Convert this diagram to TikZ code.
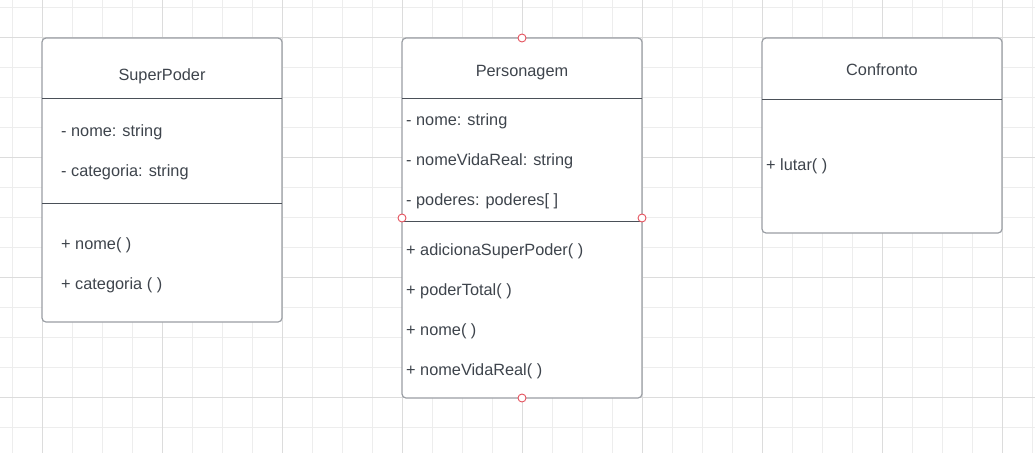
\documentclass[tikz,border=0pt]{standalone}
\usepackage{fontspec}
\setmainfont{Liberation Sans}
\definecolor{minorgrid}{HTML}{EDEDED}
\definecolor{majorgrid}{HTML}{DCDCDC}
\definecolor{boxborder}{HTML}{9A9EA4}
\definecolor{divline}{HTML}{4A5058}
\definecolor{txtcol}{HTML}{3E444C}
\definecolor{handlecol}{HTML}{E5535F}
\begin{document}
\begin{tikzpicture}[x=1pt,y=-1pt,
  classbox/.style={draw=boxborder, line width=1.2pt, fill=white, rounded corners=4pt,
    inner sep=0pt, outer sep=0pt, anchor=north west, minimum width=240pt},
  divider/.style={draw=divline, line width=1pt},
  member/.style={anchor=base west, inner sep=0pt, text=txtcol, font=\fontsize{16.3}{19}\selectfont},
  title/.style={anchor=base, inner sep=0pt, text=txtcol, font=\fontsize{16.3}{19}\selectfont},
  handle/.style={circle, draw=handlecol, fill=white, line width=0.9pt, minimum size=8pt, inner sep=0pt}]
\fill[white] (0,0) rectangle (1035,453);
\useasboundingbox (0,0) rectangle (1035,453);
% grid
\foreach \i in {0,...,34} \draw[minorgrid, line width=0.9pt] ({12.3+30*\i},0) -- ({12.3+30*\i},453);
\foreach \j in {0,...,15} \draw[minorgrid, line width=0.9pt] (0,{7.3+30*\j}) -- (1035,{7.3+30*\j});
\foreach \i in {0,...,8} \draw[majorgrid, line width=0.9pt] ({42.3+120*\i},0) -- ({42.3+120*\i},453);
\foreach \j in {0,...,3} \draw[majorgrid, line width=0.9pt] (0,{37.3+120*\j}) -- (1035,{37.3+120*\j});

% SuperPoder
\node[classbox, minimum height=284pt] (sp) at (42,38) {};
\draw[divider] (42,98) -- (282,98);
\draw[divider] (42,203) -- (282,203);
\node[title] (spt) at (162,80) {SuperPoder};
\node[member] (spa1) at (61,136.5) {- nome: string};
\node[member] (spa2) at (61,176.5) {- categoria: string};
\node[member] (spm1) at (61,249) {+ nome( )};
\node[member] (spm2) at (61,289) {+ categoria ( )};

% Personagem
\node[classbox, minimum height=360pt] (pg) at (402,38) {};
\draw[divider] (402,98) -- (642,98);
\draw[divider] (402,221) -- (642,221);
\node[title] (pgt) at (522,76) {Personagem};
\node[member] (pga1) at (406,125.3) {- nome: string};
\node[member] (pga2) at (406,165.3) {- nomeVidaReal: string};
\node[member] (pga3) at (406,205.3) {- poderes: poderes[ ]};
\node[member] (pgm1) at (406,255) {+ adicionaSuperPoder( )};
\node[member] (pgm2) at (406,295) {+ poderTotal( )};
\node[member] (pgm3) at (406,335) {+ nome( )};
\node[member] (pgm4) at (406,375) {+ nomeVidaReal( )};
\node[handle] (h1) at (pg.north) {};
\node[handle] (h2) at (pg.south) {};
\node[handle] (h3) at (402,218) {};
\node[handle] (h4) at (642,218) {};

% Confronto
\node[classbox, minimum height=195pt] (cf) at (762,38) {};
\draw[divider] (762,99) -- (1002,99);
\node[title] (cft) at (882,75) {Confronto};
\node[member] (cfm1) at (766,170) {+ lutar( )};
\end{tikzpicture}
\end{document}
